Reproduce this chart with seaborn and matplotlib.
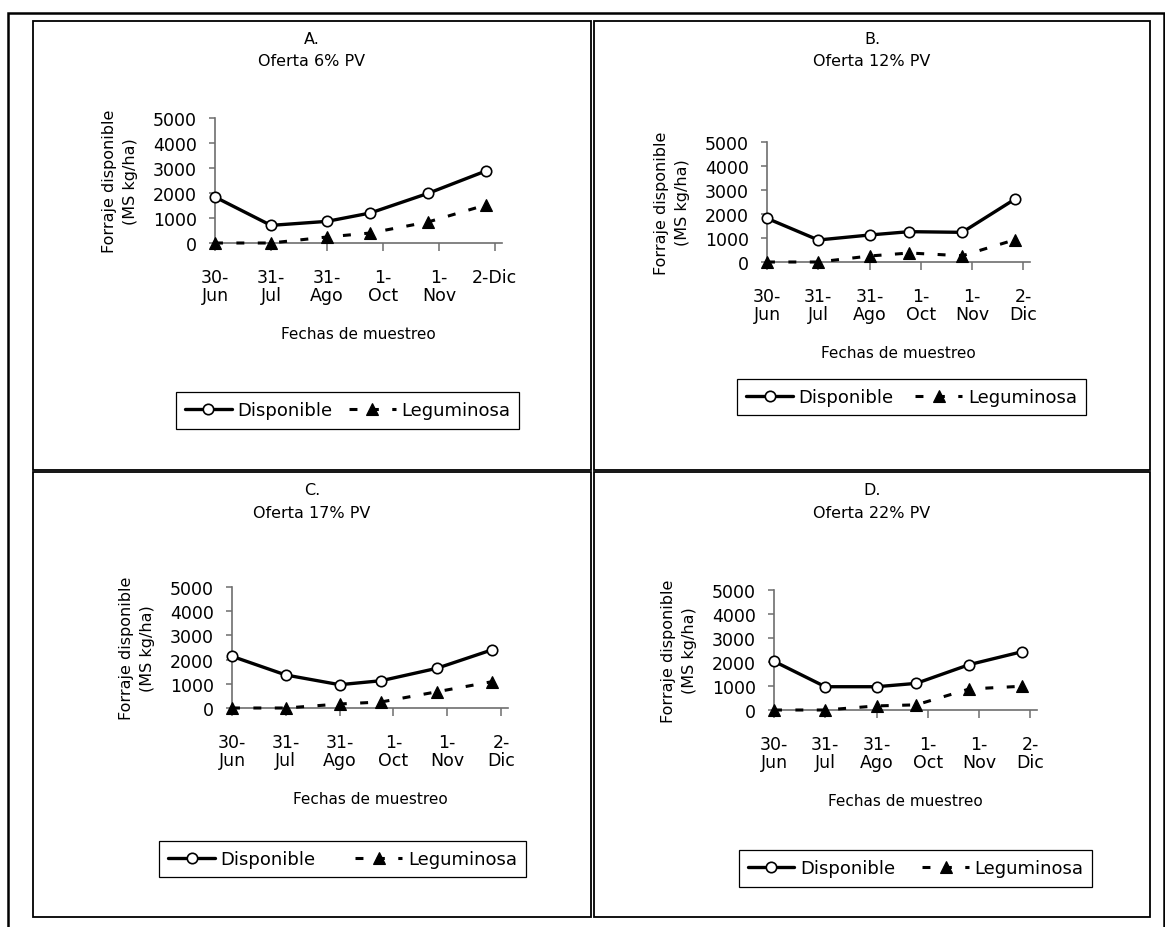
import matplotlib
matplotlib.use("Agg")
import matplotlib.pyplot as plt
import seaborn as sns
import pandas as pd
from matplotlib.patches import Rectangle

sns.set_style("white")
plt.rcParams["font.family"] = ["DejaVu Sans"]
plt.rcParams["text.color"] = "black"
plt.rcParams["xtick.labelcolor"] = "black"
plt.rcParams["ytick.labelcolor"] = "black"
plt.rcParams["legend.labelcolor"] = "black"

# ---- data -------------------------------------------------------------
fechas_muestreo = ["2005-06-30", "2005-07-31", "2005-08-31",
                   "2005-09-24", "2005-10-26", "2005-11-27"]
fechas_marcas = ["2005-06-30", "2005-07-31", "2005-08-31",
                 "2005-10-01", "2005-11-01", "2005-12-02"]
etiquetas_a = ["30-\nJun", "31-\nJul", "31-\nAgo", "1-\nOct", "1-\nNov", "2-Dic"]
etiquetas = ["30-\nJun", "31-\nJul", "31-\nAgo", "1-\nOct", "1-\nNov", "2-\nDic"]

disponible_a = [1840, 705, 865, 1200, 1985, 2880]
leguminosa_a = [0, 0, 240, 400, 840, 1520]
disponible_b = [1820, 917, 1125, 1264, 1236, 2625]
leguminosa_b = [0, 0, 250, 375, 260, 930]
disponible_c = [2136, 1364, 963, 1128, 1640, 2409]
leguminosa_c = [0, 0, 165, 250, 670, 1090]
disponible_d = [2030, 970, 970, 1110, 1890, 2430]
leguminosa_d = [0, 0, 170, 215, 875, 990]

letras = ["A.", "B.", "C.", "D."]
ofertas = ["Oferta 6% PV", "Oferta 12% PV", "Oferta 17% PV", "Oferta 22% PV"]
y_ticks = [0, 1000, 2000, 3000, 4000, 5000]

inicio = pd.Timestamp(fechas_marcas[0])
dias = [(pd.Timestamp(f) - inicio).days for f in fechas_muestreo]
dias_marcas = [(pd.Timestamp(f) - inicio).days for f in fechas_marcas]

# ---- layout (pixels) ---------------------------------------------------
W, H = 1165, 928
fig = plt.figure(figsize=(W / 100, H / 100), dpi=100)


def fx(x):
    return x / W


def fy(y):
    return 1 - y / H


def rect(l, t, r, b, lw):
    fig.add_artist(Rectangle((fx(l), fy(b)), (r - l) / W, (b - t) / H,
                             fill=False, lw=lw, ec="black",
                             transform=fig.transFigure))


rect(8, 14, 1164, 960, 1.8)

paneles = [
    dict(caja=(33, 22, 591, 471), ejes=(215, 119, 502, 244),
         leyenda=(173, 394, 522, 429), sep=0.9, etq=etiquetas_a,
         disp=disponible_a, leg=leguminosa_a),
    dict(caja=(594, 22, 1150, 471), ejes=(767, 143, 1030, 263),
         leyenda=(735, 380, 1088, 416), sep=1.2, etq=etiquetas,
         disp=disponible_b, leg=leguminosa_b),
    dict(caja=(33, 473, 591, 918), ejes=(232, 588, 508, 709),
         leyenda=(152, 842, 533, 878), sep=2.2, etq=etiquetas,
         disp=disponible_c, leg=leguminosa_c),
    dict(caja=(594, 473, 1150, 918), ejes=(774, 591, 1037, 711),
         leyenda=(733, 852, 1098, 887), sep=1.5, etq=etiquetas,
         disp=disponible_d, leg=leguminosa_d),
]

gris = "#6e6e6e"

for i, p in enumerate(paneles):
    cl, ct, cr, cb = p["caja"]
    rect(cl, ct, cr, cb, 1.3)
    cx = (cl + cr) / 2

    fig.text(fx(cx), fy(ct + 18), letras[i], ha="center", va="center", fontsize=11.5)
    fig.text(fx(cx), fy(ct + 40), ofertas[i], ha="center", va="center", fontsize=11.5)

    l, t, r, b = p["ejes"]
    ax = fig.add_axes([fx(l), fy(b), (r - l) / W, (b - t) / H])
    df = pd.DataFrame({"dia": dias, "Disponible": p["disp"], "Leguminosa": p["leg"]})

    sns.lineplot(data=df, x="dia", y="Leguminosa", ax=ax, color="black",
                 lw=2.2, ls=(0, (2.6, 4.4)), marker="^", ms=8,
                 mfc="black", mec="black", mew=0.8, clip_on=False,
                 zorder=4, legend=False)
    sns.lineplot(data=df, x="dia", y="Disponible", ax=ax, color="black",
                 lw=2.4, marker="o", ms=7.5, mfc="white", mec="black",
                 mew=1.2, clip_on=False, zorder=5, legend=False)

    ax.set_xlim(0, 159)
    ax.set_ylim(0, 5000)
    ax.set_xlabel("")
    ax.set_ylabel("")
    sns.despine(ax=ax)
    for s in ("left", "bottom"):
        ax.spines[s].set_color(gris)
        ax.spines[s].set_linewidth(1.2)
    ax.set_facecolor("none")

    ax.set_xticks(dias_marcas)
    ax.set_xticklabels(p["etq"])
    ax.set_yticks(y_ticks)
    ax.set_yticklabels([str(v) for v in y_ticks])
    ax.tick_params(axis="x", bottom=True, length=6, width=1.1, color=gris,
                   pad=12, labelsize=12.5, direction="out", labelcolor="black")
    ax.tick_params(axis="y", left=True, length=4, width=1.1, color=gris,
                   pad=9, labelsize=12.5, direction="out", labelcolor="black")
    for lab in ax.get_xticklabels():
        lab.set_linespacing(1.0)

    fig.text(fx(l - 95), fy((t + b) / 2), "Forraje disponible\n(MS kg/ha)",
             rotation=90, ha="center", va="center", fontsize=11.5,
             linespacing=1.5, multialignment="center")
    fig.text(fx((l + r) / 2), fy(b + 91), "Fechas de muestreo",
             ha="center", va="center", fontsize=11)

    ll, lt, lr, lb = p["leyenda"]
    h_leg, h_disp = ax.lines[0], ax.lines[1]
    leg = ax.legend(handles=[h_disp, h_leg], labels=["Disponible", "Leguminosa"],
                    loc="center",
                    bbox_to_anchor=(fx((ll + lr) / 2), fy((lt + lb) / 2)),
                    bbox_transform=fig.transFigure, ncol=2,
                    frameon=True, fancybox=False, edgecolor="black", framealpha=1,
                    fontsize=13, handlelength=2.6, handletextpad=0.3,
                    columnspacing=p["sep"], borderpad=0.5, borderaxespad=0)
    leg.get_frame().set_linewidth(0.9)

fig.savefig("out.png", dpi=100)
